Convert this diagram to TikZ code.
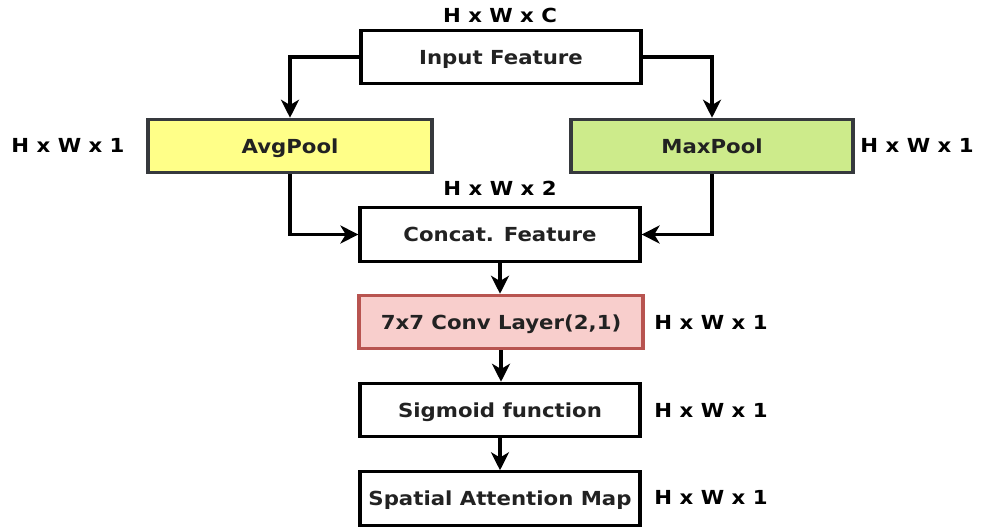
\documentclass[tikz,border=0pt]{standalone}
\usepackage{fontspec}
\setmainfont{DejaVu Sans}[FakeStretch=1.1]
\usetikzlibrary{arrows.meta}
\definecolor{avgfill}{HTML}{FFFF88}
\definecolor{maxfill}{HTML}{CDEB8B}
\definecolor{convfill}{HTML}{F8CECC}
\definecolor{convline}{HTML}{B85450}
\definecolor{poolline}{HTML}{36393D}
\definecolor{boxtext}{HTML}{222222}
\begin{document}
\begin{tikzpicture}[x=0.75pt,y=-0.75pt,
  box/.style={draw=black,line width=2.4pt,fill=white,minimum width=210pt,minimum height=40pt,inner sep=0pt,
    font=\fontsize{14.5}{17}\selectfont\bfseries,text=boxtext,text height=10.6pt,text depth=0pt},
  dimlabel/.style={font=\fontsize{14.5}{17}\selectfont\bfseries,text=black,inner sep=0pt,text height=10.6pt,text depth=0pt},
  conn/.style={line width=2.4pt,-{Stealth[length=13.5pt,width=13.5pt,inset=4pt]}}]
\useasboundingbox (0,0) rectangle (981,529);
\node[box] (input) at (501,57) {Input Feature};
\node[box,fill=avgfill,draw=poolline,minimum width=213pt] (avg) at (290,146) {AvgPool};
\node[box,fill=maxfill,draw=poolline,minimum width=211.5pt] (max) at (712,146) {MaxPool};
\node[box] (concat) at (500,234.5) {Concat. Feature};
\node[box,fill=convfill,draw=convline,minimum width=213pt] (conv) at (501,322) {7x7 Conv Layer(2,1)};
\node[box] (sig) at (500,410) {Sigmoid function};
\node[box] (sam) at (500,498.5) {Spatial Attention Map};
\node[dimlabel] (lin) at (500,15) {H x W x C};
\node[dimlabel] (lavg) at (68,145) {H x W x 1};
\node[dimlabel] (lmax) at (917,145) {H x W x 1};
\node[dimlabel] (lcat) at (500,188) {H x W x 2};
\node[dimlabel] (lconv) at (711,322) {H x W x 1};
\node[dimlabel] (lsig) at (711,410) {H x W x 1};
\node[dimlabel] (lsam) at (711,497) {H x W x 1};
\draw[conn] (input.west) -| (avg.north);
\draw[conn] (input.east) -| (max.north);
\draw[conn] (avg.south) |- (concat.west);
\draw[conn] (max.south) |- (concat.east);
\draw[conn] (concat.south) -- (concat.south |- conv.north);
\draw[conn] (conv.south) -- (conv.south |- sig.north);
\draw[conn] (sig.south) -- (sam.north);
\end{tikzpicture}
\end{document}
